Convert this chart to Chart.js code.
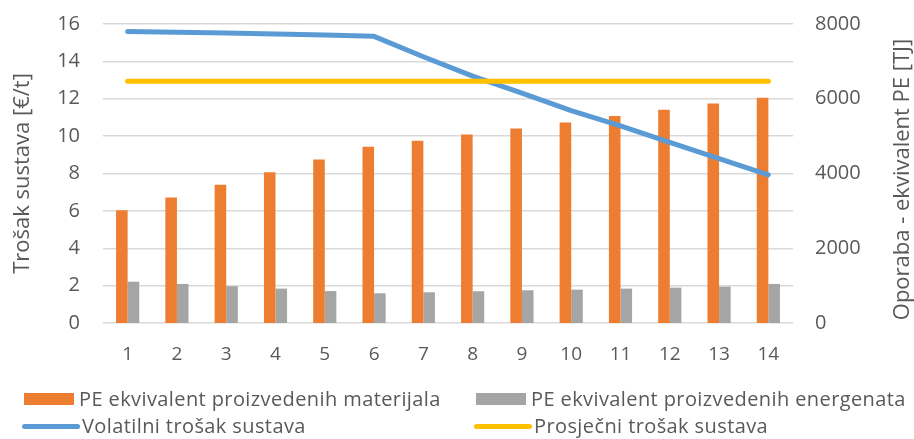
<!DOCTYPE html>
<html>
<head>
<meta charset="utf-8">
<script src="https://cdn.jsdelivr.net/npm/chart.js@4"></script>
<style>
  html, body { margin: 0; padding: 0; background: #fff; }
  #wrap { position: relative; width: 914px; height: 439px; }
  #legend { position: absolute; left: 0; top: 0; width: 914px; height: 439px; pointer-events: none;
    font-family: 'Open Sans', sans-serif; font-size: 20px; color: #595959; letter-spacing: 0.4px; }
  .item { position: absolute; display: flex; align-items: center; white-space: nowrap; line-height: 20px; }
  .box { width: 50px; height: 12px; margin-right: 5px; }
  .line { width: 58px; height: 5px; border-radius: 3px; margin-right: 2px; }
</style>
</head>
<body>
<div id="wrap">
  <canvas id="chart" width="914" height="439"></canvas>
  <div id="legend"></div>
</div>
<script>
const categories = ['1', '2', '3', '4', '5', '6', '7', '8', '9', '10', '11', '12', '13', '14'];

// TJ, right axis
const peMaterijala = [3020, 3355, 3700, 4035, 4375, 4715, 4875, 5045, 5205, 5365, 5540, 5705, 5870, 6030];
const peEnergenata = [1105, 1045, 985, 920, 855, 795, 822, 850, 875, 892, 920, 946, 973, 1045];

// €/t, left axis
const volatilniTrosak = [15.60, 15.56, 15.52, 15.47, 15.41, 15.34, 14.25, 13.21, 12.30, 11.37, 10.55, 9.66, 8.80, 7.93];
const prosjecniTrosak = [12.93, 12.93, 12.93, 12.93, 12.93, 12.93, 12.93, 12.93, 12.93, 12.93, 12.93, 12.93, 12.93, 12.93];

const leftTicks = [0, 2, 4, 6, 8, 10, 12, 14, 16];
const rightTicks = [0, 2000, 4000, 6000, 8000];

const textColor = '#595959';
const gridColor = '#d9d9d9';

Chart.defaults.font.family = "'Open Sans', sans-serif";
Chart.defaults.color = textColor;

// right axis title reads bottom-to-top, chart.js would rotate it the other way
const rightTitle = {
  id: 'rightTitle',
  afterDraw(chart) {
    const { ctx, chartArea } = chart;
    const scale = chart.scales.y1;
    ctx.save();
    ctx.translate(scale.right - 11, (chartArea.top + chartArea.bottom) / 2 + 6);
    ctx.rotate(-Math.PI / 2);
    ctx.font = "22px 'Open Sans', sans-serif";
    ctx.fillStyle = textColor;
    ctx.textAlign = 'center';
    ctx.textBaseline = 'middle';
    ctx.fillText('Oporaba - ekvivalent PE [TJ]', 0, 0);
    ctx.restore();
  }
};

// fixed axis width, and don't let tick padding push the plot area down
function fixWidth(w) {
  return (scale) => {
    scale.width = w;
    scale.paddingTop = 0;
    scale.paddingBottom = 0;
  };
}

const chart = new Chart(document.getElementById('chart'), {
  data: {
    labels: categories,
    datasets: [
      {
        type: 'bar',
        label: 'PE ekvivalent proizvedenih materijala',
        data: peMaterijala,
        yAxisID: 'y1',
        backgroundColor: '#ED7D31',
        categoryPercentage: 0.47,
        barPercentage: 1,
        order: 2
      },
      {
        type: 'bar',
        label: 'PE ekvivalent proizvedenih energenata',
        data: peEnergenata,
        yAxisID: 'y1',
        backgroundColor: '#A5A5A5',
        categoryPercentage: 0.47,
        barPercentage: 1,
        order: 2
      },
      {
        type: 'line',
        label: 'Volatilni trošak sustava',
        data: volatilniTrosak,
        yAxisID: 'y',
        borderColor: '#5B9BD5',
        borderWidth: 5,
        pointRadius: 0,
        tension: 0,
        borderCapStyle: 'round',
        borderJoinStyle: 'round',
        order: 1
      },
      {
        type: 'line',
        label: 'Prosječni trošak sustava',
        data: prosjecniTrosak,
        yAxisID: 'y',
        borderColor: '#FFC000',
        borderWidth: 5,
        pointRadius: 0,
        tension: 0,
        borderCapStyle: 'round',
        order: 0
      }
    ]
  },
  options: {
    responsive: false,
    animation: false,
    layout: { padding: { top: 24, bottom: 66, left: 0, right: 0 } },
    plugins: {
      legend: { display: false },
      tooltip: { enabled: false }
    },
    scales: {
      x: {
        grid: { display: false, drawTicks: false },
        border: { display: false },
        ticks: { font: { size: 19 }, padding: 20, maxRotation: 0 },
        afterFit: (scale) => { scale.height = 50; }
      },
      y: {
        position: 'left',
        min: 0,
        max: 16,
        afterBuildTicks: (scale) => { scale.ticks = leftTicks.map((v) => ({ value: v })); },
        grid: { color: gridColor, lineWidth: 1.5, drawTicks: false },
        border: { display: false },
        ticks: { font: { size: 20 }, padding: 23 },
        title: {
          display: true,
          text: 'Trošak sustava [€/t]',
          font: { size: 22 },
          padding: { top: 10, bottom: 0 }
        },
        afterFit: fixWidth(103)
      },
      y1: {
        position: 'right',
        min: 0,
        max: 8000,
        afterBuildTicks: (scale) => { scale.ticks = rightTicks.map((v) => ({ value: v })); },
        grid: { display: false, drawTicks: false },
        border: { display: false },
        ticks: { font: { size: 20 }, padding: 22, callback: (v) => String(v) },
        afterFit: fixWidth(121)
      }
    }
  },
  plugins: [rightTitle]
});

// legend in two columns, as in the original
const legendEl = document.getElementById('legend');
const legendSpots = [
  { left: 24, top: 389, kind: 'box' },
  { left: 476, top: 389, kind: 'box' },
  { left: 22, top: 416, kind: 'line' },
  { left: 474, top: 416, kind: 'line' }
];
chart.data.datasets.forEach((ds, i) => {
  const spot = legendSpots[i];
  const item = document.createElement('div');
  item.className = 'item';
  item.style.left = spot.left + 'px';
  item.style.top = spot.top + 'px';
  const mark = document.createElement('span');
  mark.className = spot.kind;
  mark.style.background = ds.type === 'bar' ? ds.backgroundColor : ds.borderColor;
  const label = document.createElement('span');
  label.textContent = ds.label;
  item.appendChild(mark);
  item.appendChild(label);
  legendEl.appendChild(item);
});
</script>
</body>
</html>
